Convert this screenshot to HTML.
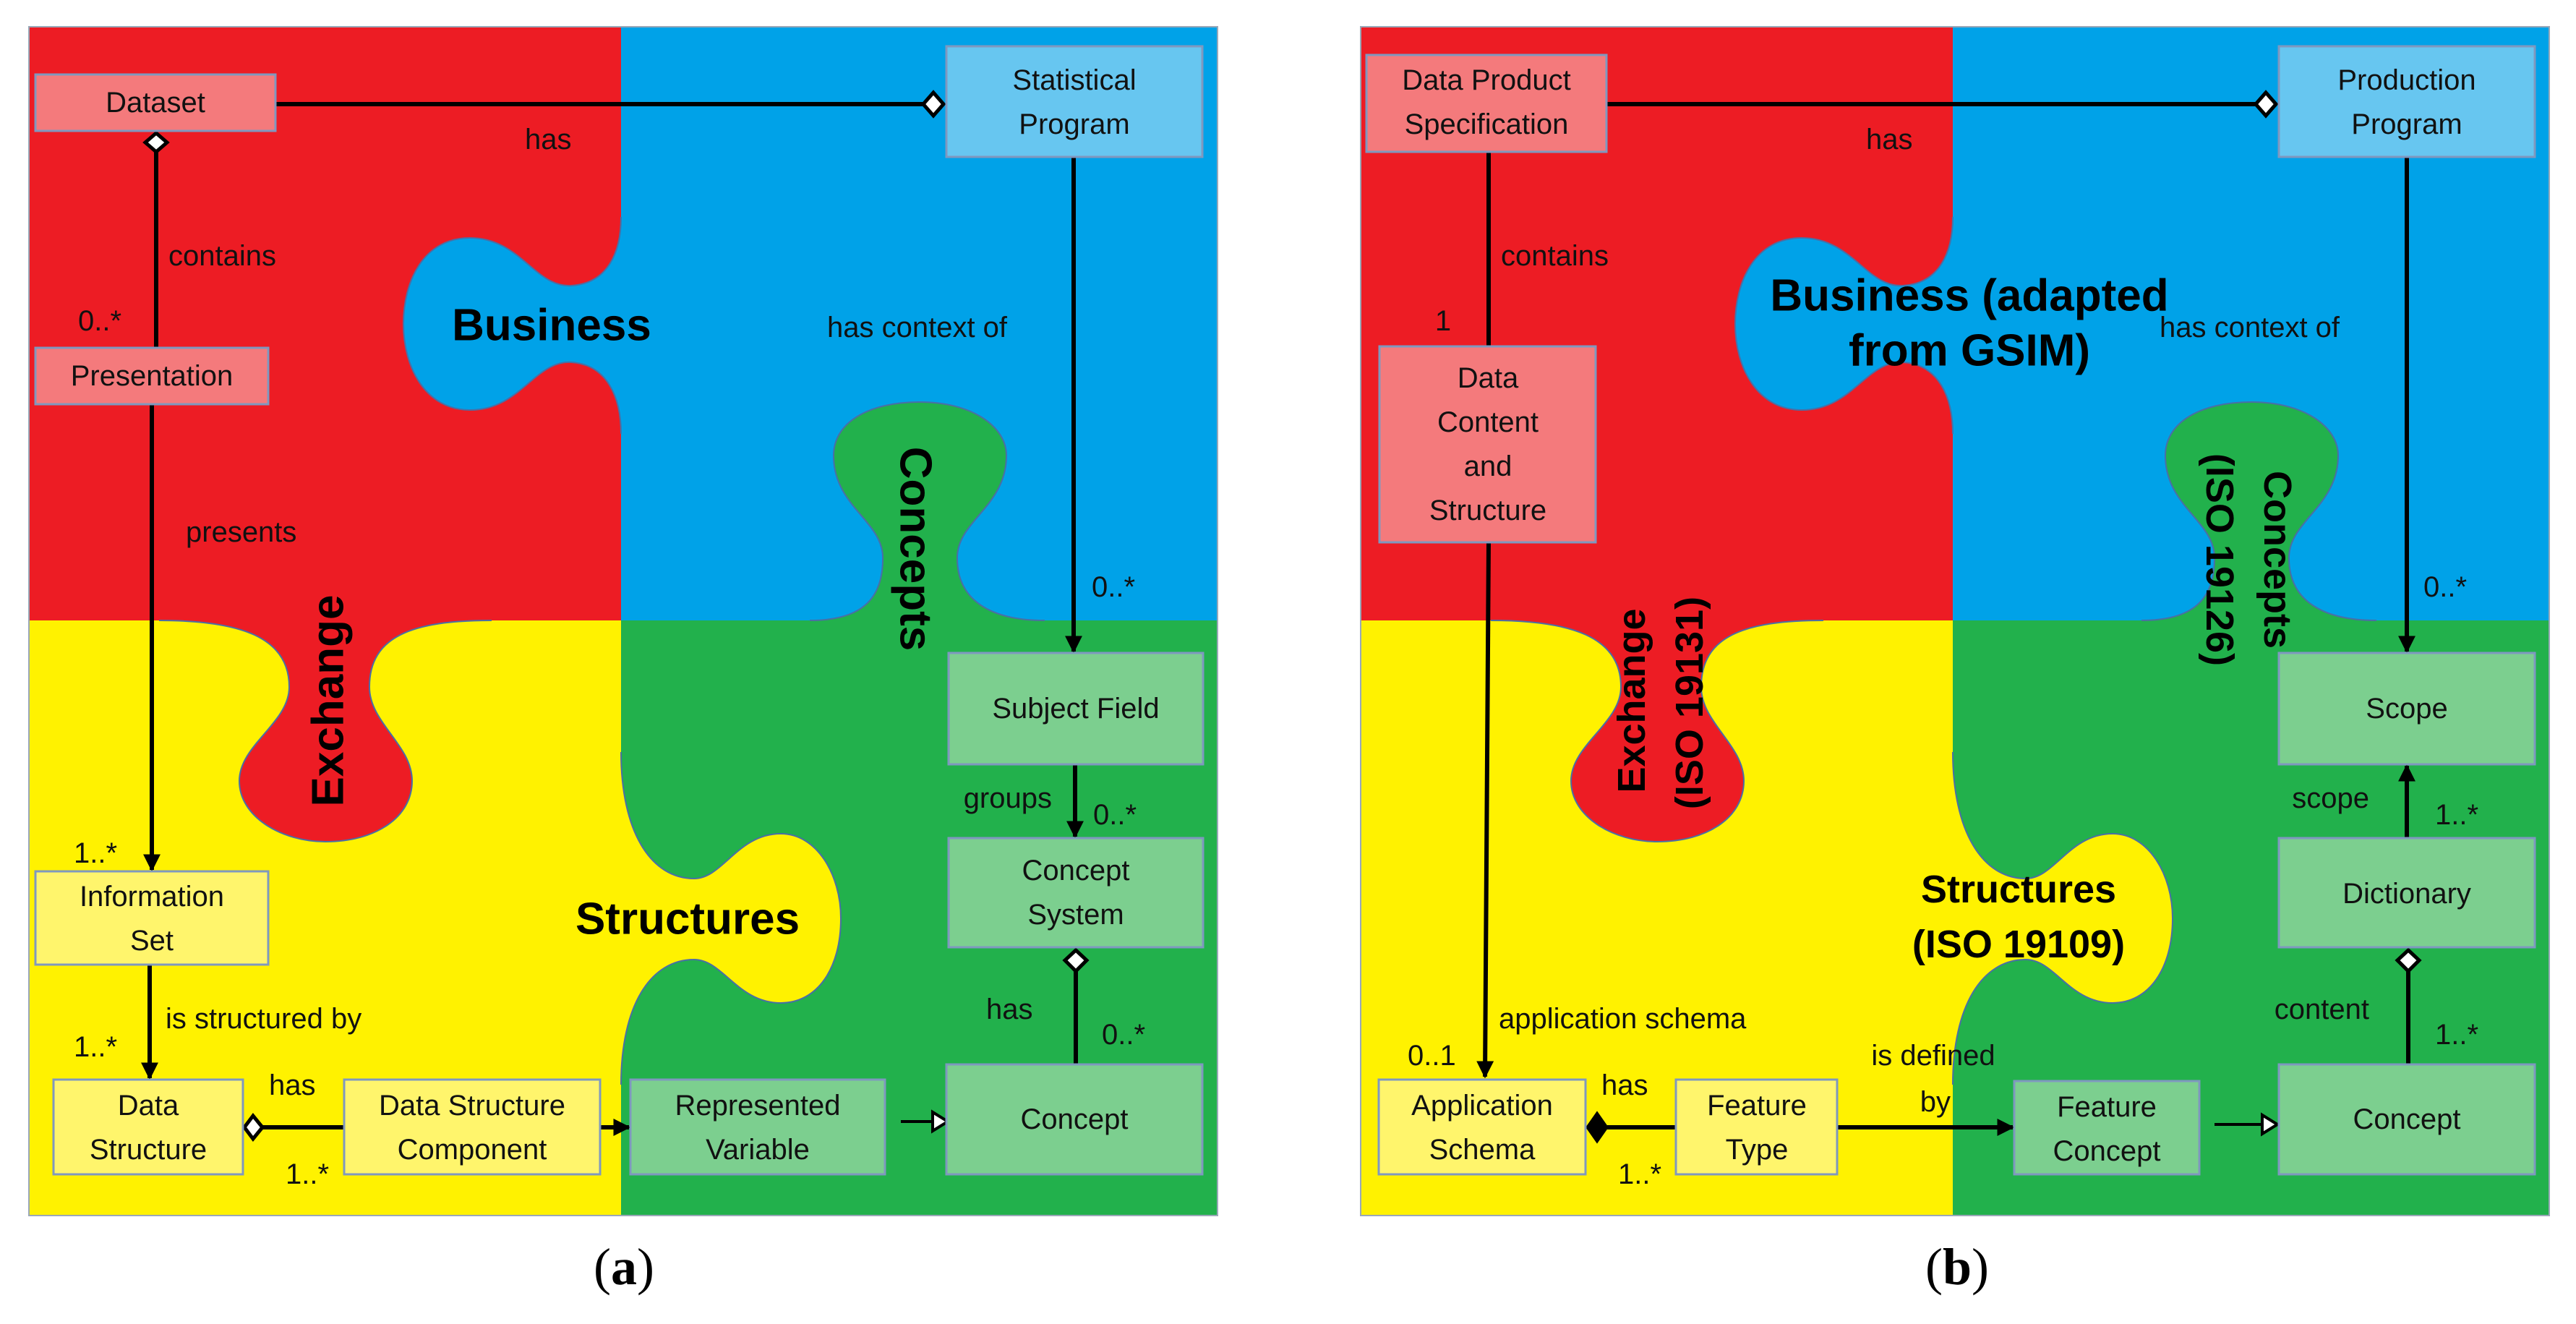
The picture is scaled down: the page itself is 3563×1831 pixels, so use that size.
<!DOCTYPE html>
<html><head><meta charset="utf-8"><style>
html,body{margin:0;padding:0;background:#fff;}
svg{display:block;}
text{font-family:"Liberation Sans",sans-serif;}
.t{font-size:40px;fill:#111;}
.b{font-size:62px;font-weight:bold;fill:#000;}
.c{font-family:"Liberation Serif",serif;font-size:72px;fill:#000;}
</style></head><body>
<svg width="3563" height="1831" viewBox="0 0 3563 1831" xmlns="http://www.w3.org/2000/svg">
<defs>
<marker id="ar" viewBox="0 0 10 10" refX="9" refY="5" markerWidth="4" markerHeight="4" orient="auto" markerUnits="strokeWidth"><path d="M0,0 L10,5 L0,10 Z" fill="#000"/></marker>
<g id="bg">
 <rect x="40" y="37" width="819" height="821" fill="#ed1c24"/>
 <rect x="859" y="37" width="825" height="821" fill="#00a2e8"/>
 <rect x="40" y="858" width="819" height="823" fill="#fff200"/>
 <rect x="859" y="858" width="825" height="823" fill="#22b14c"/>
 <path d="M859,300 C859,350 840,392 790,395 C740,398 720,329 650,329 C585,329 558,390 558,448 C558,510 590,567 650,567 C720,567 740,498 790,501 C840,504 859,550 859,600 Z" fill="#00a2e8"/>
 <path d="M859,300 C859,350 840,392 790,395 C740,398 720,329 650,329 C585,329 558,390 558,448 C558,510 590,567 650,567 C720,567 740,498 790,501 C840,504 859,550 859,600" fill="none" stroke="#4a6fa5" stroke-width="2"/>
 <path d="M1120,858 C1190,858 1222,830 1221,770 C1220,720 1153,700 1153,630 C1153,585 1200,556 1272,556 C1345,556 1392,590 1392,630 C1392,700 1325,720 1324,770 C1323,830 1370,858 1445,858 Z" fill="#22b14c"/>
 <path d="M1120,858 C1190,858 1222,830 1221,770 C1220,720 1153,700 1153,630 C1153,585 1200,556 1272,556 C1345,556 1392,590 1392,630 C1392,700 1325,720 1324,770 C1323,830 1370,858 1445,858" fill="none" stroke="#4a6fa5" stroke-width="2"/>
 <path d="M220,858 C330,858 400,880 400,950 C400,1000 331,1030 331,1080 C331,1130 390,1164 450,1164 C520,1164 570,1130 570,1080 C570,1030 511,1000 511,950 C511,880 570,858 680,858 Z" fill="#ed1c24"/>
 <path d="M220,858 C330,858 400,880 400,950 C400,1000 331,1030 331,1080 C331,1130 390,1164 450,1164 C520,1164 570,1130 570,1080 C570,1030 511,1000 511,950 C511,880 570,858 680,858" fill="none" stroke="#4a6fa5" stroke-width="2"/>
 <path d="M859,1040 C859,1150 900,1215 960,1215 C1000,1215 1020,1153 1080,1153 C1130,1153 1163,1210 1163,1270 C1163,1340 1130,1387 1080,1387 C1020,1387 1000,1327 960,1327 C900,1327 859,1390 859,1500 Z" fill="#fff200"/>
 <path d="M859,1040 C859,1150 900,1215 960,1215 C1000,1215 1020,1153 1080,1153 C1130,1153 1163,1210 1163,1270 C1163,1340 1130,1387 1080,1387 C1020,1387 1000,1327 960,1327 C900,1327 859,1390 859,1500" fill="none" stroke="#4a6fa5" stroke-width="2"/>
 <rect x="40" y="37" width="1644" height="1644" fill="none" stroke="#9aa8b8" stroke-width="2"/>
</g>
</defs>

<!-- PANEL A -->
<use href="#bg"/>
<g stroke="#000" stroke-width="6" fill="none">
 <line x1="381" y1="144" x2="1280" y2="144"/>
 <line x1="216" y1="210" x2="216" y2="481"/>
 <line x1="210" y1="559" x2="210" y2="1203" marker-end="url(#ar)"/>
 <line x1="207" y1="1334" x2="207" y2="1491" marker-end="url(#ar)"/>
 <line x1="363" y1="1559" x2="476" y2="1559"/>
 <line x1="830" y1="1559" x2="870" y2="1559" marker-end="url(#ar)"/>
 <line x1="1485" y1="217" x2="1485" y2="901" marker-end="url(#ar)"/>
 <line x1="1487" y1="1057" x2="1487" y2="1157" marker-end="url(#ar)"/>
 <line x1="1488" y1="1343" x2="1488" y2="1472"/>
 <line x1="1246" y1="1551" x2="1290" y2="1551" stroke-width="4"/>
</g>
<path d="M1290,1538 L1311,1551 L1290,1564 Z" fill="#fff" stroke="#000" stroke-width="4"/>
<path d="M1277,144 L1291,128 L1305,144 L1291,160 Z" fill="#fff" stroke="#000" stroke-width="5"/>
<path d="M216,184 L231,197 L216,210 L201,197 Z" fill="#fff" stroke="#000" stroke-width="5"/>
<path d="M338,1559 L350,1543 L363,1559 L350,1575 Z" fill="#fff" stroke="#000" stroke-width="5"/>
<path d="M1488,1314 L1503,1328 L1488,1343 L1473,1328 Z" fill="#fff" stroke="#000" stroke-width="5"/>

<g stroke="#7f98bf" stroke-width="3">
 <rect x="49" y="103" width="332" height="78" fill="#f47a7c"/>
 <rect x="1309" y="64" width="354" height="153" fill="#67c6f0"/>
 <rect x="49" y="481" width="322" height="78" fill="#f47a7c"/>
 <rect x="49" y="1205" width="322" height="129" fill="#fff56c"/>
 <rect x="74" y="1493" width="262" height="131" fill="#fff56c"/>
 <rect x="476" y="1493" width="354" height="131" fill="#fff56c"/>
 <rect x="872" y="1493" width="352" height="131" fill="#7ccf8f"/>
 <rect x="1309" y="1472" width="354" height="152" fill="#7ccf8f"/>
 <rect x="1312" y="903" width="352" height="154" fill="#7ccf8f"/>
 <rect x="1312" y="1159" width="352" height="151" fill="#7ccf8f"/>
</g>
<g class="t" text-anchor="middle" dominant-baseline="central">
 <text x="215" y="142">Dataset</text>
 <text x="1486" y="111">Statistical</text><text x="1486" y="172">Program</text>
 <text x="210" y="520">Presentation</text>
 <text x="210" y="1240">Information</text><text x="210" y="1301">Set</text>
 <text x="205" y="1529">Data</text><text x="205" y="1590">Structure</text>
 <text x="653" y="1529">Data Structure</text><text x="653" y="1590">Component</text>
 <text x="1048" y="1529">Represented</text><text x="1048" y="1590">Variable</text>
 <text x="1486" y="1548">Concept</text>
 <text x="1488" y="980">Subject Field</text>
 <text x="1488" y="1204">Concept</text><text x="1488" y="1265">System</text>
</g>
<g class="t" dominant-baseline="central">
 <text x="726" y="193">has</text>
 <text x="233" y="354">contains</text>
 <text x="108" y="444">0..*</text>
 <text x="257" y="736">presents</text>
 <text x="102" y="1180">1..*</text>
 <text x="229" y="1409">is structured by</text>
 <text x="102" y="1448">1..*</text>
 <text x="372" y="1501">has</text>
 <text x="395" y="1624">1..*</text>
 <text x="1144" y="453">has context of</text>
 <text x="1510" y="812">0..*</text>
 <text x="1455" y="1104" text-anchor="end">groups</text>
 <text x="1512" y="1127">0..*</text>
 <text x="1364" y="1396">has</text>
 <text x="1524" y="1431">0..*</text>
</g>
<g class="b" text-anchor="middle" dominant-baseline="central">
 <text x="763" y="450">Business</text>
 <text x="951" y="1271">Structures</text>
 <text transform="translate(454,969) rotate(-90)">Exchange</text>
 <text transform="translate(1266,759) rotate(90)">Concepts</text>
</g>
<text class="c" x="863" y="1752" text-anchor="middle" dominant-baseline="central">(<tspan font-weight="bold">a</tspan>)</text>

<!-- PANEL B -->
<use href="#bg" transform="translate(1842,0)"/>
<g stroke="#000" stroke-width="6" fill="none">
 <line x1="2222" y1="144" x2="3122" y2="144"/>
 <line x1="2059" y1="210" x2="2059" y2="479"/>
 <line x1="2059" y1="750" x2="2054" y2="1489" marker-end="url(#ar)"/>
 <line x1="2223" y1="1559" x2="2318" y2="1559"/>
 <line x1="2541" y1="1559" x2="2784" y2="1559" marker-end="url(#ar)"/>
 <line x1="3329" y1="217" x2="3329" y2="901" marker-end="url(#ar)"/>
 <line x1="3329" y1="1159" x2="3329" y2="1059" marker-end="url(#ar)"/>
 <line x1="3331" y1="1343" x2="3331" y2="1472"/>
 <line x1="3063" y1="1555" x2="3129" y2="1555" stroke-width="4"/>
</g>
<path d="M3129,1542 L3150,1555 L3129,1568 Z" fill="#fff" stroke="#000" stroke-width="4"/>
<path d="M3120,144 L3134,128 L3148,144 L3134,160 Z" fill="#fff" stroke="#000" stroke-width="5"/>
<path d="M2059,184 L2074,197 L2059,210 L2044,197 Z" fill="#fff" stroke="#000" stroke-width="5"/>
<path d="M2195,1559 L2209,1539 L2223,1559 L2209,1579 Z" fill="#000" stroke="#000" stroke-width="3"/>
<path d="M3331,1314 L3346,1328 L3331,1343 L3316,1328 Z" fill="#fff" stroke="#000" stroke-width="5"/>

<g stroke="#7f98bf" stroke-width="3">
 <rect x="1890" y="76" width="332" height="134" fill="#f47a7c"/>
 <rect x="3152" y="64" width="354" height="153" fill="#67c6f0"/>
 <rect x="1908" y="479" width="299" height="271" fill="#f47a7c"/>
 <rect x="1907" y="1493" width="286" height="131" fill="#fff56c"/>
 <rect x="2318" y="1493" width="223" height="131" fill="#fff56c"/>
 <rect x="2786" y="1495" width="256" height="129" fill="#7ccf8f"/>
 <rect x="3152" y="1472" width="354" height="152" fill="#7ccf8f"/>
 <rect x="3152" y="903" width="354" height="154" fill="#7ccf8f"/>
 <rect x="3152" y="1159" width="354" height="151" fill="#7ccf8f"/>
</g>
<g class="t" text-anchor="middle" dominant-baseline="central">
 <text x="2056" y="111">Data Product</text><text x="2056" y="172">Specification</text>
 <text x="3329" y="111">Production</text><text x="3329" y="172">Program</text>
 <text x="2058" y="523">Data</text><text x="2058" y="584">Content</text><text x="2058" y="645">and</text><text x="2058" y="706">Structure</text>
 <text x="2050" y="1529">Application</text><text x="2050" y="1590">Schema</text>
 <text x="2430" y="1529">Feature</text><text x="2430" y="1590">Type</text>
 <text x="2914" y="1531">Feature</text><text x="2914" y="1592">Concept</text>
 <text x="3329" y="1548">Concept</text>
 <text x="3329" y="980">Scope</text>
 <text x="3329" y="1236">Dictionary</text>
</g>
<g class="t" dominant-baseline="central">
 <text x="2581" y="193">has</text>
 <text x="2076" y="354">contains</text>
 <text x="1996" y="444" text-anchor="middle">1</text>
 <text x="2073" y="1409">application schema</text>
 <text x="1947" y="1460">0..1</text>
 <text x="2215" y="1501">has</text>
 <text x="2238" y="1624">1..*</text>
 <text x="2674" y="1460" text-anchor="middle">is defined</text>
 <text x="2698" y="1524" text-anchor="end">by</text>
 <text x="2987" y="453">has context of</text>
 <text x="3352" y="812">0..*</text>
 <text x="3277" y="1104" text-anchor="end">scope</text>
 <text x="3368" y="1127">1..*</text>
 <text x="3277" y="1396" text-anchor="end">content</text>
 <text x="3368" y="1431">1..*</text>
</g>
<g class="b" text-anchor="middle" dominant-baseline="central">
 <text x="2724" y="409">Business (adapted</text>
 <text x="2724" y="485">from GSIM)</text>
 <text x="2792" y="1230" font-size="54">Structures</text>
 <text x="2792" y="1306" font-size="54">(ISO 19109)</text>
 <text transform="translate(2257,969) rotate(-90)" font-size="54">Exchange</text>
 <text transform="translate(2337,972) rotate(-90)" font-size="54">(ISO 19131)</text>
 <text transform="translate(3150,774) rotate(90)" font-size="54">Concepts</text>
 <text transform="translate(3070,774) rotate(90)" font-size="54">(ISO 19126)</text>
</g>
<text class="c" x="2707" y="1752" text-anchor="middle" dominant-baseline="central">(<tspan font-weight="bold">b</tspan>)</text>
</svg>
</body></html>
